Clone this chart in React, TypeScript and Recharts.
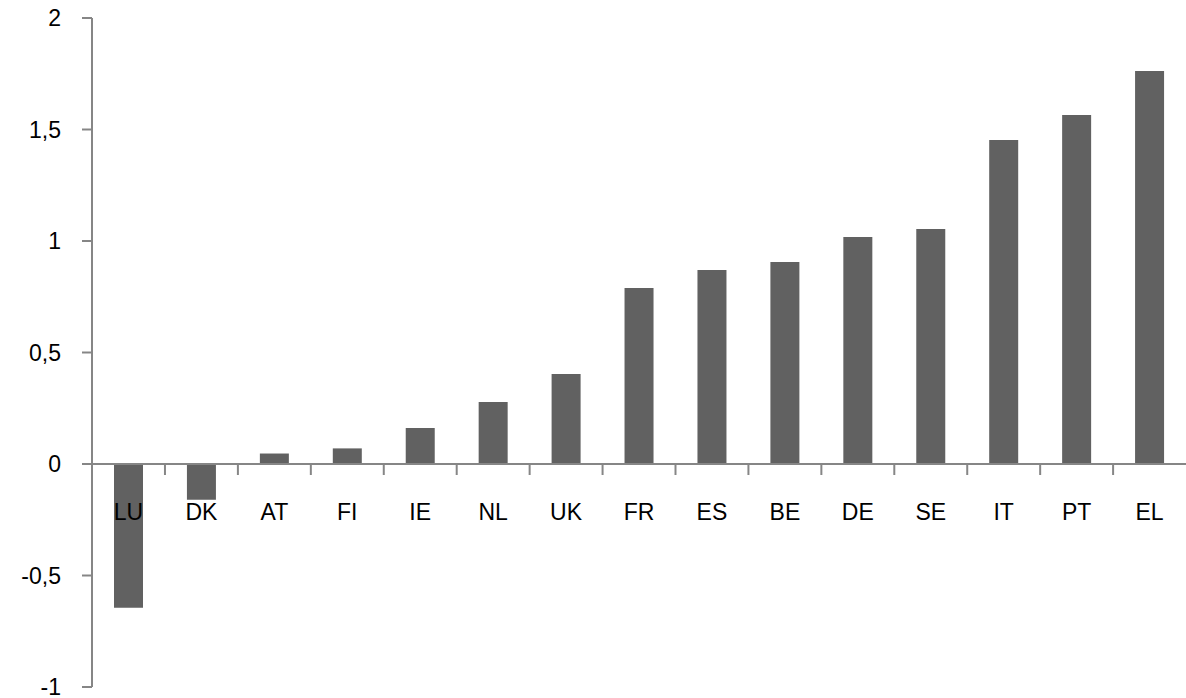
import React from 'react';
import { BarChart, Bar, XAxis, YAxis, ReferenceLine, LabelList } from 'recharts';

const countries = ['LU', 'DK', 'AT', 'FI', 'IE', 'NL', 'UK', 'FR', 'ES', 'BE', 'DE', 'SE', 'IT', 'PT', 'EL'];
const values = [-0.645, -0.16, 0.047, 0.07, 0.161, 0.278, 0.404, 0.789, 0.87, 0.906, 1.018, 1.054, 1.453, 1.565, 1.762];
const yTicks = [-1, -0.5, 0, 0.5, 1, 1.5, 2];

const data = countries.map((c, i) => ({ country: c, value: values[i] }));

const WIDTH = 1186;
const HEIGHT = 698;
const AXIS_W = 92;
const CAT_W = (WIDTH - AXIS_W) / countries.length;
const GRAY = '#868686';
const FONT = '"Liberation Sans", Arial, sans-serif';

// category label + boundary tick, hung off the zero line (y + height of each bar)
const CategoryLabel = (props: any) => {
  const { x, y, width, height, index } = props;
  const cx = Number(x) + Number(width) / 2;
  const base = Number(y) + Number(height);
  const right = cx + CAT_W / 2;
  return (
    <g>
      {index < countries.length - 1 && (
        <line x1={right} x2={right} y1={base} y2={base + 11} stroke={GRAY} strokeWidth={2} />
      )}
      <text x={cx} y={base + 48} textAnchor="middle" dominantBaseline="central" fontSize={23} fontFamily={FONT} fill="#000">
        {countries[index]}
      </text>
    </g>
  );
};

const App: React.FC = () => {
  return (
    <div style={{ position: 'absolute', left: 0, top: 0, background: '#fff' }}>
      <BarChart width={WIDTH} height={HEIGHT} data={data} margin={{ top: 18, right: 0, bottom: 11, left: 0 }} barSize={29}>
        <XAxis dataKey="country" hide />
        <YAxis
          width={AXIS_W}
          domain={[-1, 2]}
          ticks={yTicks}
          interval={0}
          tickFormatter={(v: number) => String(v).replace('.', ',')}
          axisLine={{ stroke: GRAY, strokeWidth: 2 }}
          tickLine={{ stroke: GRAY, strokeWidth: 2 }}
          tickSize={10}
          tickMargin={21}
          tick={{ fontSize: 23, fontFamily: FONT, fill: '#000' }}
        />
        <Bar dataKey="value" fill="#616161" isAnimationActive={false}>
          <LabelList dataKey="value" content={CategoryLabel} />
        </Bar>
        <ReferenceLine y={0} stroke={GRAY} strokeWidth={2} />
      </BarChart>
    </div>
  );
};

export default App;
